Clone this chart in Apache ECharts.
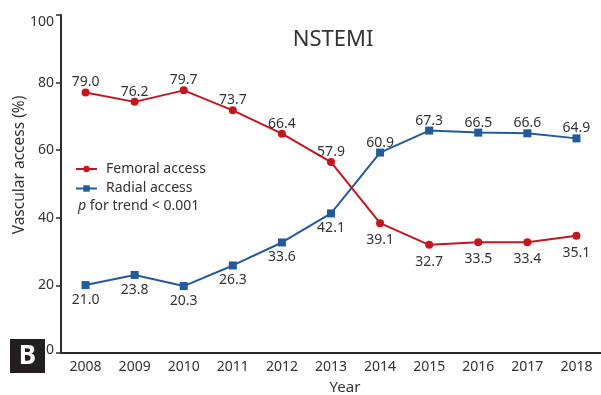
<!DOCTYPE html>
<html>
<head>
<meta charset="utf-8">
<script src="https://cdn.jsdelivr.net/npm/echarts@6/dist/echarts.min.js"></script>
<style>
html,body{margin:0;padding:0;background:#fff;}
#c{width:601px;height:395px;}
</style>
</head>
<body>
<div id="c"></div>
<script>
// Categories
const years = ['2008','2009','2010','2011','2012','2013','2014','2015','2016','2017','2018'];
// Plotted positions (as drawn in the figure)
const femoralValues = [77.1, 74.3, 77.7, 71.8, 64.9, 56.5, 38.4, 32.0, 32.8, 32.8, 34.7];
const radialValues  = [20.1, 23.1, 19.8, 25.9, 32.7, 41.3, 59.3, 65.8, 65.2, 65.0, 63.5];
// Printed value labels
const femoralLabels = ['79.0','76.2','79.7','73.7','66.4','57.9','39.1','32.7','33.5','33.4','35.1'];
const radialLabels  = ['21.0','23.8','20.3','26.3','33.6','42.1','60.9','67.3','66.5','66.6','64.9'];
// Y axis ticks
const yTicks = [0, 20, 40, 60, 80, 100];

const FONT = '"Noto Sans", sans-serif';
const TXT = '#333333';
const RED = '#c4161c';
const BLUE = '#235a9b';

const chart = echarts.init(document.getElementById('c'), null, {renderer: 'canvas'});

function buildData(vals, labels, abovePred, belowDist) {
  return vals.map((v, i) => ({
    value: v,
    label: {
      position: abovePred(i) ? 'top' : 'bottom',
      distance: abovePred(i) ? -1 : belowDist,
      formatter: labels[i]
    }
  }));
}

chart.setOption({
  animation: false,
  backgroundColor: '#ffffff',
  textStyle: {fontFamily: FONT},
  title: {
    text: 'NSTEMI',
    left: 328, top: 35, textAlign: 'center', textVerticalAlign: 'middle',
    textStyle: {fontFamily: FONT, fontSize: 22, fontWeight: 'normal', color: TXT}
  },
  legend: {
    orient: 'vertical',
    left: 75, top: 162, padding: 0,
    itemWidth: 21, itemHeight: 8, itemGap: 5.5,
    data: ['Femoral access', 'Radial access'],
    textStyle: {fontFamily: FONT, fontSize: 14, color: TXT, padding: [0, 0, 0, 4]}
  },
  grid: {left: 61, right: -6, top: 15, bottom: 42, containLabel: false},
  xAxis: {
    type: 'category',
    data: years,
    boundaryGap: true,
    axisLine: {lineStyle: {color: '#2b2b2b', width: 2}},
    axisTick: {alignWithLabel: true, length: 5, lineStyle: {color: '#2b2b2b', width: 1.5}},
    axisLabel: {fontFamily: FONT, fontSize: 14, color: TXT, margin: 7}
  },
  yAxis: {
    type: 'value',
    min: yTicks[0], max: yTicks[yTicks.length - 1], interval: 20,
    splitLine: {show: false},
    axisLine: {show: true, lineStyle: {color: '#2b2b2b', width: 2}},
    axisTick: {show: true, length: 5, lineStyle: {color: '#2b2b2b', width: 1.5}},
    axisLabel: {
      fontFamily: FONT, fontSize: 14, color: TXT, margin: 7,
      formatter: v => v === 100 ? '{a|100}' : (v === 0 ? '{b|0}' : String(v)),
      rich: {
        a: {fontFamily: FONT, fontSize: 14, color: TXT, padding: [14, 0, 0, 0]},
        b: {fontFamily: FONT, fontSize: 14, color: TXT, padding: [0, 0, 5, 0]}
      }
    }
  },
  series: [
    {
      name: 'Femoral access',
      type: 'line',
      data: buildData(femoralValues, femoralLabels, i => i < 6, 6),
      symbol: 'circle', symbolSize: 8,
      lineStyle: {color: RED, width: 2},
      itemStyle: {color: RED},
      label: {show: true, fontFamily: FONT, fontSize: 14, color: TXT},
      z: 3
    },
    {
      name: 'Radial access',
      type: 'line',
      data: buildData(radialValues, radialLabels, i => i >= 6, 4),
      symbol: 'rect', symbolSize: 8,
      lineStyle: {color: BLUE, width: 2},
      itemStyle: {color: BLUE},
      label: {show: true, fontFamily: FONT, fontSize: 14, color: TXT},
      z: 2
    }
  ],
  graphic: [
    {
      type: 'text', left: 78, top: 199,
      style: {
        text: '{i|p} for trend < 0.001',
        rich: {
          i: {fontFamily: FONT, fontSize: 14, fontStyle: 'italic', fill: TXT}
        },
        font: '14px "Noto Sans", sans-serif',
        fill: TXT
      }
    },
    {
      type: 'text', x: 20, y: 165, rotation: Math.PI / 2,
      style: {
        text: 'Vascular access (%)',
        font: '15.5px "Noto Sans", sans-serif',
        fill: TXT, align: 'center', verticalAlign: 'middle'
      }
    },
    {
      type: 'text', x: 345, y: 388,
      style: {
        text: 'Year',
        font: '15px "Noto Sans", sans-serif',
        fill: TXT, align: 'center', verticalAlign: 'middle'
      }
    },
    {
      type: 'rect', shape: {x: 10, y: 339, width: 35, height: 34},
      style: {fill: '#231f20'}, z: 100
    },
    {
      type: 'text', x: 27.5, y: 356.5, z: 101,
      style: {
        text: 'B',
        font: 'bold 26px "Noto Sans", sans-serif',
        fill: '#ffffff', align: 'center', verticalAlign: 'middle'
      }
    }
  ]
});
</script>
</body>
</html>
